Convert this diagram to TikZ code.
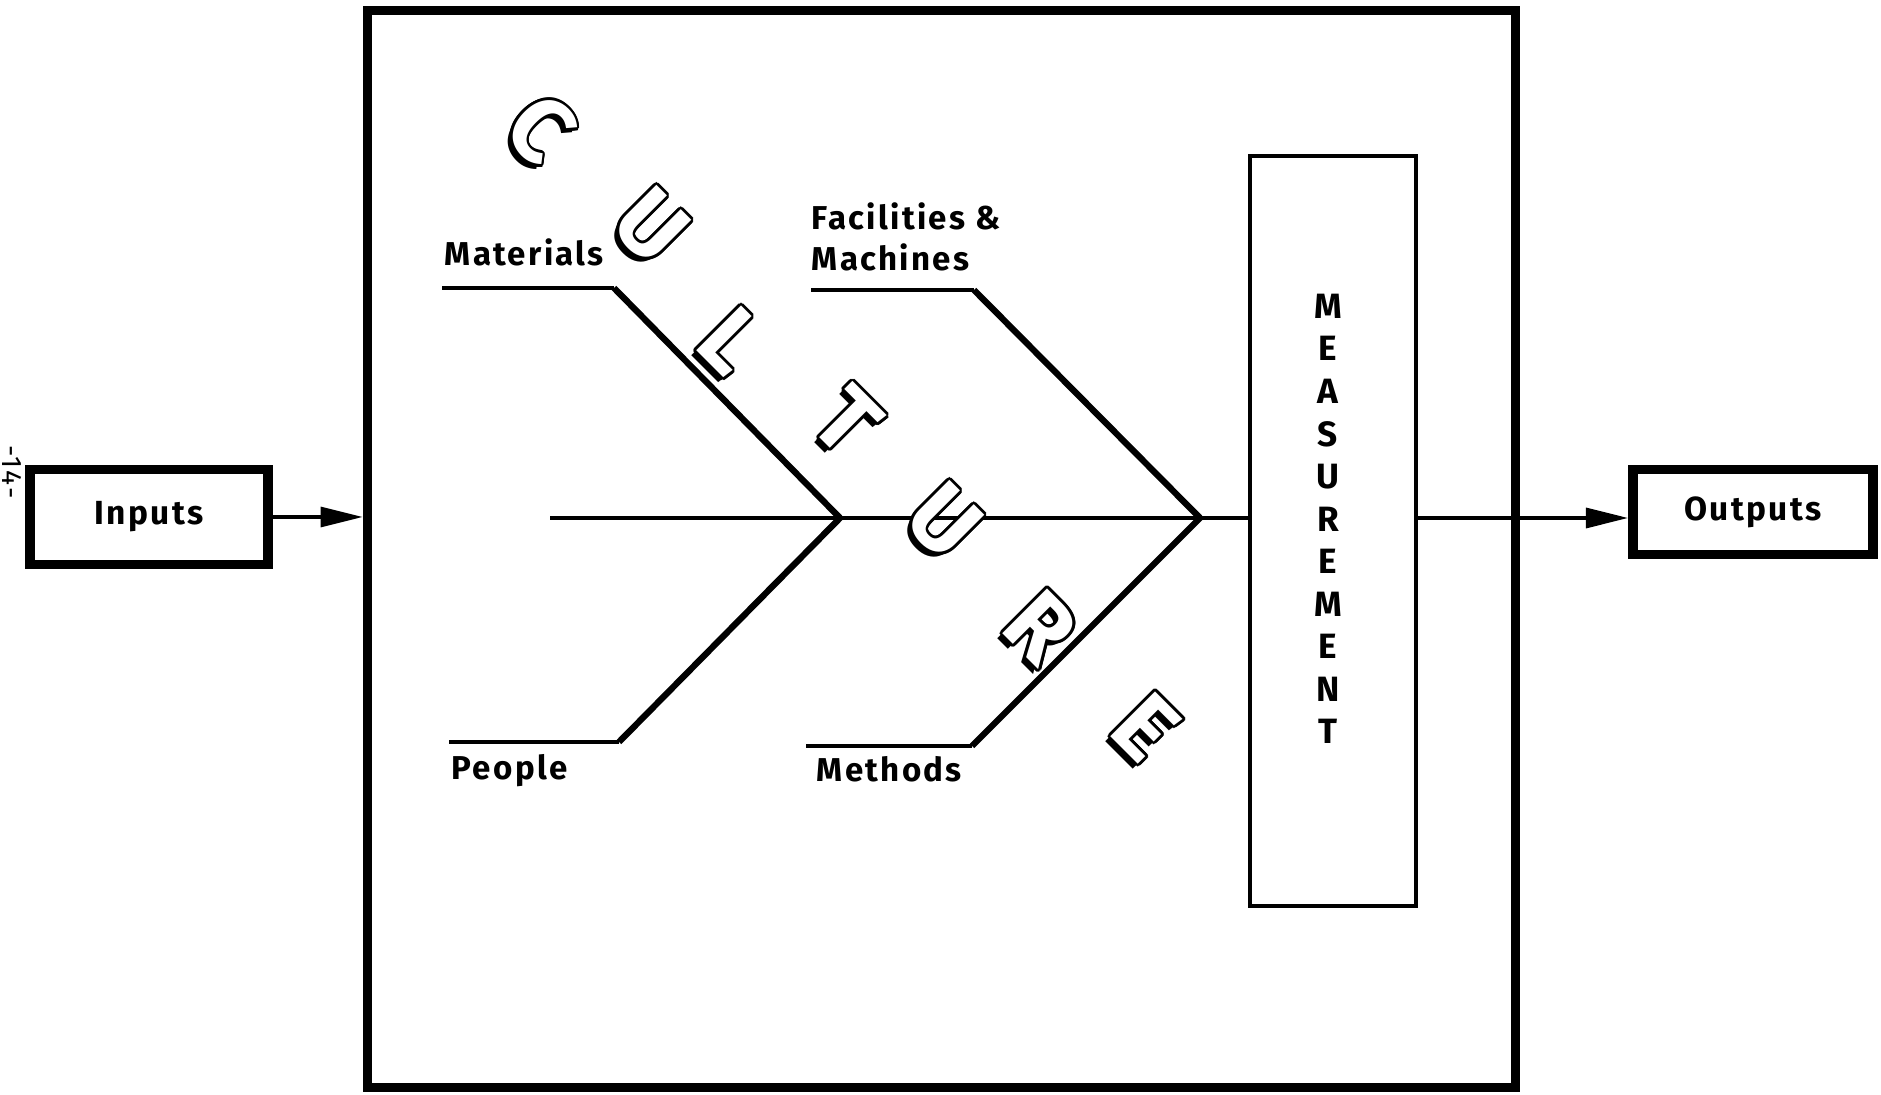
\documentclass[tikz,border=0pt]{standalone}
\usepackage{fontspec}
\setmainfont{Fira Sans}[LetterSpace=7]
\usepackage{contour}
\contourlength{0.8pt}
\usetikzlibrary{arrows.meta}

\tikzset{
	bonetext/.style={font=\bfseries\fontsize{9.4}{9.4}\selectfont, inner sep=0pt},
	iobox/.style={draw, line width=2.8pt, font=\bfseries\fontsize{9.5}{9.5}\selectfont},
	cletter/.style={font=\bfseries\fontsize{26}{26}\selectfont, rotate=-45, inner sep=0pt},
	flow/.style={line width=0.9pt, -{Triangle[length=0.42cm, width=0.2cm]}},
}
\newcommand{\cultureletter}[2]{%
	\node[cletter] at ([shift={(-4,4)}]#1) {#2};
	\node[cletter] at (#1) {\contour{black}{\textcolor{white}{#2}}};
}

\begin{document}
\begin{tikzpicture}[x=0.01cm, y=-0.01cm]
	\useasboundingbox (0,0) rectangle (1881,1095);
	\node[rotate=-90, font=\fontsize{8}{8}\selectfont, inner sep=0pt] (page) at (12,472) {-14-};

	\node[iobox, minimum width=2.38cm, minimum height=0.95cm] (inputs) at (149,517) {Inputs};
	\node[iobox, minimum width=2.40cm, minimum height=0.85cm] (outputs) at (1753,512) {Outputs};
	\node[draw, line width=2.6pt, minimum width=11.48cm, minimum height=10.77cm] (system) at (941.5,549) {};
	\node[draw, line width=1.2pt, minimum width=1.66cm, minimum height=7.5cm] (measure) at (1333,531) {};

	\coordinate (tail) at (550,518);
	\coordinate (j1) at (840,518);
	\coordinate (j2) at (1200,518);
	\coordinate (mat) at (442,288);
	\coordinate (matB) at (614,288);
	\coordinate (ppl) at (449,742);
	\coordinate (pplB) at (619,742);
	\coordinate (fac) at (811,290);
	\coordinate (facB) at (974,290);
	\coordinate (mth) at (806,746);
	\coordinate (mthB) at (972,746);

	\draw[flow] (inputs.east) -- (system.west |- inputs.east);
	\draw[line width=0.9pt] (tail) -- (measure.west |- j2);
	\draw[flow] (measure.east |- j2) -- (outputs.west |- j2);

	\draw[line width=1.2pt] (mat) -- (matB);
	\draw[line width=1.8pt] (matB) -- (j1) -- (pplB);
	\draw[line width=1.2pt] (pplB) -- (ppl);
	\draw[line width=1.2pt] (fac) -- (facB);
	\draw[line width=1.8pt] (facB) -- (j2) -- (mthB);
	\draw[line width=1.2pt] (mthB) -- (mth);

	\node[bonetext, anchor=base west] (materials) at (444,266) {Materials};
	\node[bonetext, anchor=north west, align=left, font=\bfseries\fontsize{9.4}{11.7}\selectfont] (facilities) at (811,202) {Facilities \&\\Machines};
	\node[bonetext, anchor=base west] (people) at (451,780) {People};
	\node[bonetext, anchor=base west] (methods) at (816,782) {Methods};

	\node[bonetext, align=center, font=\bfseries\fontsize{10}{12.1}\selectfont] (measuretext) at (1328,519) {M\\E\\A\\S\\U\\R\\E\\M\\E\\N\\T};

	\cultureletter{540,130}{C}
	\cultureletter{650,227}{U}
	\cultureletter{730,342}{L}
	\cultureletter{846,422}{T}
	\cultureletter{943,522}{U}
	\cultureletter{1040,628}{R}
	\cultureletter{1145,728}{E}
\end{tikzpicture}
\end{document}
